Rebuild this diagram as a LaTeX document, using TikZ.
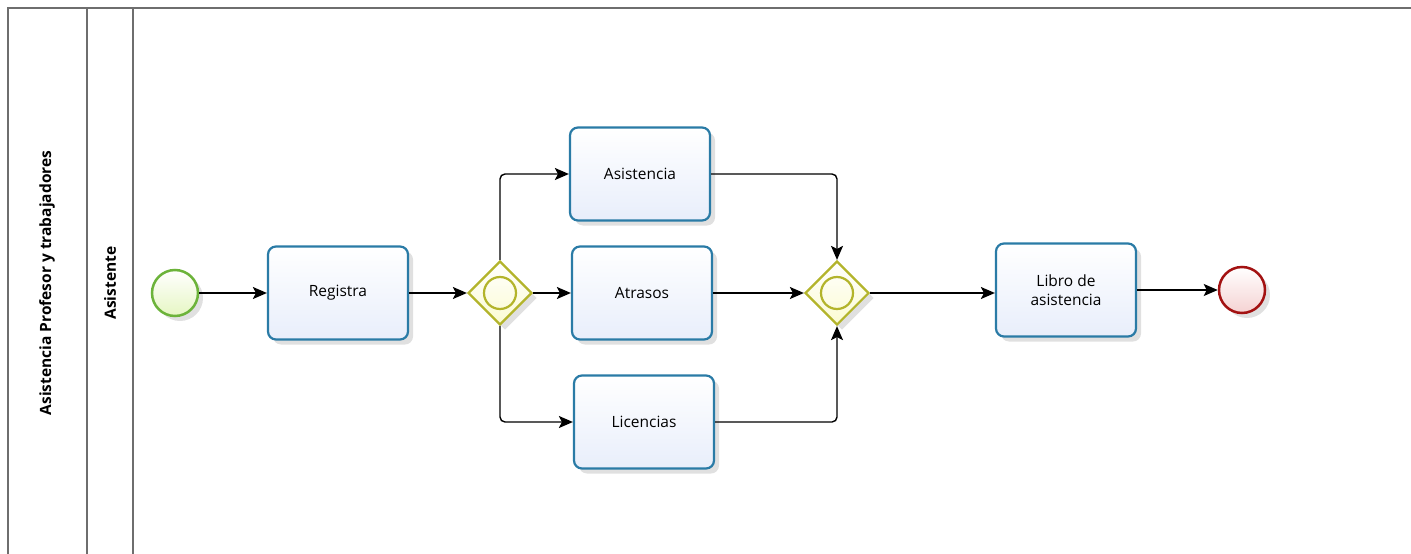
\documentclass[tikz,border=0pt]{standalone}
\usepackage{fontspec}
\setmainfont{Open Sans}
\usetikzlibrary{arrows.meta,positioning,shapes.geometric,shadows}
\definecolor{taskline}{HTML}{2A7BA6}
\definecolor{taskfill}{HTML}{E8EEFB}
\definecolor{gateline}{HTML}{B3B42B}
\definecolor{gatefill}{HTML}{FBFBD2}
\definecolor{startline}{HTML}{6CB33A}
\definecolor{startfill}{HTML}{E6F6C3}
\definecolor{endline}{HTML}{A31212}
\definecolor{endfill}{HTML}{F5D2D2}
\definecolor{poolline}{HTML}{6E6E6E}

\begin{document}
\begin{tikzpicture}[x=1pt,y=-1pt,>={Stealth[length=14pt,width=12pt,inset=3pt]},
		flow/.style={->,black,line width=1.4pt,rounded corners=5pt},
		soft shadow/.style={drop shadow={shadow xshift=5pt,shadow yshift=-5pt,opacity=0.12,fill=black}},
		task node/.style={rectangle,rounded corners=8pt,draw=taskline,line width=2.2pt,
			minimum width=140pt,minimum height=93pt,top color=white,bottom color=taskfill,
			soft shadow,align=center,font=\fontsize{15.5}{19}\selectfont},
		gate node/.style={diamond,aspect=1,draw=gateline,line width=2.2pt,minimum size=64pt,
			inner sep=0pt,top color=white,bottom color=gatefill,soft shadow},
		gate mark/.style={circle,draw=gateline,line width=2.2pt,minimum size=32pt,inner sep=0pt},
		event node/.style={circle,line width=2.5pt,minimum size=46pt,inner sep=0pt,soft shadow},
		lane label/.style={rotate=90,font=\bfseries\fontsize{15.5}{18}\selectfont}]

		\useasboundingbox (0,0) rectangle (1411,554);

		% pool and lane
		\draw[poolline,line width=1.3pt] (1411,8) -- (8,8) -- (8,554);
		\draw[poolline,line width=1.3pt] (87,8) -- (87,554);
		\draw[poolline,line width=1.3pt] (133,8) -- (133,554);
		\node[lane label] (pool) at (47,283) {Asistencia Profesor y trabajadores};
		\node[lane label] (lane) at (110,283) {Asistente};

		% events, tasks and gateways
		\node[event node,draw=startline,top color=white,bottom color=startfill] (start) at (175,293) {};
		\node[task node] (registra) at (338,293) {Registra};
		\node[gate node] (split) at (500,293) {};
		\node[gate mark] at (split) {};
		\node[task node] (asistencia) at (640,174) {Asistencia};
		\node[task node] (atrasos) at (642,293) {Atrasos};
		\node[task node] (licencias) at (644,422) {Licencias};
		\node[gate node] (join) at (837,293) {};
		\node[gate mark] at (join) {};
		\node[task node] (libro) at (1066,290) {Libro de\\asistencia};
		\node[event node,draw=endline,top color=white,bottom color=endfill] (fin) at (1242,290) {};

		% sequence flows
		\draw[flow] (start) -- (registra);
		\draw[flow] (registra) -- (split);
		\draw[flow] (split.north) |- (asistencia);
		\draw[flow] (split) -- (atrasos);
		\draw[flow] (split.south) |- (licencias);
		\draw[flow] (asistencia) -| (join.north);
		\draw[flow] (atrasos) -- (join);
		\draw[flow] (licencias) -| (join.south);
		\draw[flow] (join) -- (libro.west |- join);
		\draw[flow] (libro) -- (fin);
\end{tikzpicture}
\end{document}
